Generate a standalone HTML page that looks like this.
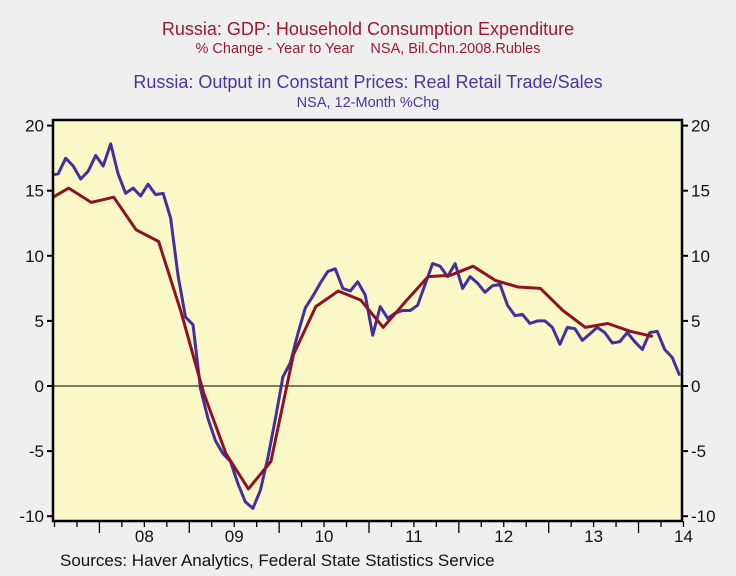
<!DOCTYPE html>
<html><head><meta charset="utf-8"><style>
html,body{margin:0;padding:0;background:#efefef;}
svg{display:block;font-family:"Liberation Sans",sans-serif;}
</style></head><body>
<svg id="chart" width="736" height="576" viewBox="0 0 736 576" xmlns="http://www.w3.org/2000/svg">
<rect width="736" height="576" fill="#efefef"/>
<g text-anchor="middle">
<text x="368" y="35" font-size="18" fill="#a01830">Russia: GDP: Household Consumption Expenditure</text>
<text x="368" y="53" font-size="14.5" fill="#a01830" xml:space="preserve">% Change - Year to Year    NSA, Bil.Chn.2008.Rubles</text>
<text x="368" y="88" font-size="18" fill="#4b35a0">Russia: Output in Constant Prices: Real Retail Trade/Sales</text>
<text x="368" y="107" font-size="14.5" fill="#4b35a0">NSA, 12-Month %Chg</text>
</g>
<defs><clipPath id="pc"><rect x="53" y="120" width="629" height="401"/></clipPath></defs>
<rect x="53" y="120" width="629" height="401" fill="#fbf8c8"/>
<g id="axes"></g>
<g id="series" clip-path="url(#pc)"></g>
<rect x="53" y="120" width="629" height="401" fill="none" stroke="#000" stroke-width="2.5"/>
<text x="60" y="566" font-size="17" fill="#111">Sources:  Haver Analytics, Federal State Statistics Service</text>
</svg>
<script>
// Blue: monthly, starting Jun 2007
const retailValues = [16.2,16.3,17.5,16.9,15.9,16.5,17.7,
16.9,18.6,16.3,14.8,15.2,14.6,15.5,14.7,14.8,12.9,8.5,5.3,
4.7,-0.2,-2.5,-4.2,-5.2,-5.8,-7.5,-8.9,-9.4,-8.0,-5.5,-2.5,
0.7,1.8,4.0,6.0,6.9,7.9,8.8,9.0,7.5,7.3,8.0,7.0,
3.9,6.1,5.2,5.6,5.8,5.8,6.2,7.8,9.4,9.2,8.4,9.4,
7.5,8.4,7.9,7.2,7.7,7.8,6.2,5.4,5.5,4.8,5.0,5.0,
4.5,3.2,4.5,4.4,3.5,4.0,4.5,4.1,3.3,3.4,4.1,3.4,
2.8,4.1,4.2,2.8,2.2,0.8];
// Red: quarterly, starting Q2 2007
const gdpValues = [14.2,15.2,14.1,14.5,12.0,11.1,5.7,-0.5,-5.2,-7.9,-5.8,2.4,6.1,7.3,6.6,4.5,6.5,8.4,8.5,9.2,8.1,7.6,7.5,5.8,4.5,4.8,4.2,3.8];
const yTicks = [20,15,10,5,0,-5,-10];
const yearLabels = ["08","09","10","11","12","13","14"];

const NS="http://www.w3.org/2000/svg";
// t = months since Jul 1 2007
function xT(t){return 54.5 + t*7.4875;}
function yV(v){return 386 - v*13.02;}
function mk(tag,attrs,parent){const e=document.createElementNS(NS,tag);for(const k in attrs)e.setAttribute(k,attrs[k]);parent.appendChild(e);return e;}
const axes=document.getElementById('axes');
const series=document.getElementById('series');

yTicks.forEach(v=>{
  const y=yV(v);
  const tl=mk('line',{x1:47,x2:53,y1:y,y2:y,stroke:'#000','stroke-width':2},axes);
  
  
  const tr=mk('line',{x1:682,x2:688,y1:y,y2:y,stroke:'#000','stroke-width':2},axes);
  
  
  const l=mk('text',{x:44,y:y+6,'font-size':17,'text-anchor':'end',fill:'#111'},axes);
  l.textContent=v;
  
  
  const r=mk('text',{x:691,y:y+6,'font-size':17,'text-anchor':'start',fill:'#111'},axes);
  r.textContent=v;
  
  
});
const zl=mk('line',{x1:53,x2:682,y1:yV(0),y2:yV(0),stroke:'#000','stroke-width':1},axes);



for(let t=0;t<=84;t+=3){
  const major=((t-6)%12===0);
  const tk=mk('line',{x1:xT(t),x2:xT(t),y1:521,y2:major?533:527,stroke:'#000','stroke-width':1.3},axes);
  
  
}
yearLabels.forEach((lab,i)=>{
  let t=12+12*i; if(t>84) t=83.4;
  const tx=mk('text',{x:xT(t),y:542,'font-size':17,'text-anchor':'middle',fill:'#111'},axes);
  tx.textContent=lab;
  
  
});

const bp=retailValues.map((v,i)=>xT(i-0.5).toFixed(1)+','+yV(v).toFixed(1)).join(' ');
const bl=mk('polyline',{points:bp,fill:'none',stroke:'#4330a0','stroke-width':3,'stroke-linejoin':'round'},series);



const rp=gdpValues.map((v,k)=>xT(3*k-1.1).toFixed(1)+','+yV(v).toFixed(1)).join(' ');
const rl=mk('polyline',{points:rp,fill:'none',stroke:'#8e1224','stroke-width':3,'stroke-linejoin':'round'},series);


</script>
</body></html>
